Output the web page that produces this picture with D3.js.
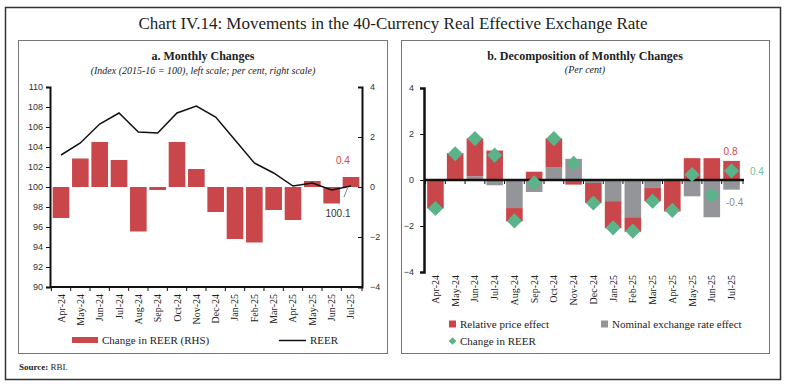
<!DOCTYPE html>
<html>
<head>
<meta charset="utf-8">
<script src="https://cdn.jsdelivr.net/npm/d3@7"></script>
<style>
  body { margin: 0; background: #fff; }
  svg { display: block; }
  text { font-family: "Liberation Serif", serif; fill: #222; }
  .num { font-family: "Liberation Sans", Arial, sans-serif; font-size: 9px; fill: #333; }
</style>
</head>
<body>
<svg id="chart" width="787" height="388"></svg>
<script>
// Данные
const months = ["Apr-24","May-24","Jun-24","Jul-24","Aug-24","Sep-24","Oct-24","Nov-24",
                "Dec-24","Jan-25","Feb-25","Mar-25","Apr-25","May-25","Jun-25","Jul-25"];
// Индекс REER (левая шкала)
const reer = [103.2,104.4,106.3,107.4,105.5,105.4,107.4,108.1,107.0,104.7,102.4,101.4,100.1,100.4,99.7,100.1];
// Изменение REER, % (правая шкала)
const reerChange = [-1.24,1.14,1.8,1.08,-1.78,-0.12,1.8,0.72,-1.0,-2.08,-2.22,-0.92,-1.32,0.24,-0.66,0.4];
// Разложение
const priceEffect = [-1.2,1.17,1.65,1.28,-0.58,0.36,1.27,-0.2,-0.87,-1.18,-0.63,-0.57,-1.37,0.95,0.95,0.83];
const nominalEffect = [-0.04,0.0,0.16,-0.23,-1.22,-0.52,0.54,0.92,-0.13,-0.92,-1.62,-0.35,0.05,-0.71,-1.62,-0.42];
// Метки шкал
const leftTicks = [90,92,94,96,98,100,102,104,106,108,110];
const rightTicks = [-4,-2,0,2,4];

const RED = "#C9474B", GRAY = "#939598", GREEN = "#5BB38A";
const svg = d3.select("#chart");

// Рамки
svg.append("rect").attr("x", 5.5).attr("y", 7.5).attr("width", 775).attr("height", 372)
   .attr("fill", "none").attr("stroke", "#333").attr("stroke-width", 1.5);
svg.append("rect").attr("x", 18.5).attr("y", 40.5).attr("width", 369).attr("height", 313)
   .attr("fill", "none").attr("stroke", "#777").attr("stroke-width", 1);
svg.append("rect").attr("x", 401.5).attr("y", 40.5).attr("width", 368).attr("height", 313)
   .attr("fill", "none").attr("stroke", "#777").attr("stroke-width", 1);

svg.append("text").attr("x", 393).attr("y", 29).attr("text-anchor", "middle")
   .style("font-size", "17px").text("Chart IV.14: Movements in the 40-Currency Real Effective Exchange Rate");

svg.append("text").attr("x", 203).attr("y", 60).attr("text-anchor", "middle")
   .style("font-size", "12px").style("font-weight", "bold").text("a. Monthly Changes");
svg.append("text").attr("x", 203).attr("y", 74).attr("text-anchor", "middle")
   .style("font-size", "10px").style("font-style", "italic")
   .text("(Index (2015-16 = 100), left scale;  per cent, right scale)");
svg.append("text").attr("x", 585).attr("y", 60).attr("text-anchor", "middle")
   .style("font-size", "12px").style("font-weight", "bold").text("b. Decomposition of Monthly Changes");
svg.append("text").attr("x", 585).attr("y", 73).attr("text-anchor", "middle")
   .style("font-size", "10px").style("font-style", "italic").text("(Per cent)");

const src = svg.append("text").attr("x", 19).attr("y", 370).style("font-size", "9px");
src.append("tspan").style("font-weight", "bold").text("Source: ");
src.append("tspan").text("RBI.");

// ---------- Панель a ----------
function chartA() {
  const x = d3.scaleBand().domain(months).range([50, 362]).padding(0.14);
  const yL = d3.scaleLinear().domain([90, 110]).range([287, 87]);
  const yR = d3.scaleLinear().domain([-4, 4]).range([287, 87]);
  const g = svg.append("g");

  g.selectAll("rect.bar").data(months).enter().append("rect")
    .attr("x", d => x(d))
    .attr("width", x.bandwidth())
    .attr("y", (d, i) => yR(Math.max(0, reerChange[i])))
    .attr("height", (d, i) => Math.abs(yR(reerChange[i]) - yR(0)))
    .attr("fill", RED);

  const line = d3.line().x((d, i) => x(months[i]) + x.bandwidth() / 2).y(d => yL(d));
  g.append("path").datum(reer).attr("d", line)
    .attr("fill", "none").attr("stroke", "#111").attr("stroke-width", 1.5);

  // Оси
  const left = g.append("g").attr("transform", "translate(50,0)")
    .call(d3.axisLeft(yL).tickValues(leftTicks).tickSize(4));
  const right = g.append("g").attr("transform", "translate(362,0)")
    .call(d3.axisRight(yR).tickValues(rightTicks).tickSize(-4).tickPadding(8));
  [left, right].forEach(a => {
    a.select(".domain").attr("stroke", "#111").attr("stroke-width", 2);
    a.selectAll("line").attr("stroke", "#111");
    a.selectAll("text").attr("class", "num");
  });

  const boundaries = months.map(m => x(m) - x.step() * x.paddingOuter() * 0 - (x.step() - x.bandwidth()) / 2).concat([362]);
  g.append("line").attr("x1", 50).attr("x2", 362).attr("y1", 287).attr("y2", 287)
    .attr("stroke", "#111").attr("stroke-width", 2);
  g.selectAll("line.xt").data(boundaries).enter().append("line")
    .attr("x1", d => d).attr("x2", d => d).attr("y1", 287).attr("y2", 291).attr("stroke", "#111");

  g.selectAll("text.xl").data(months).enter().append("text")
    .attr("transform", d => `translate(${x(d) + x.bandwidth() / 2 + 3.5},294) rotate(-90)`)
    .attr("text-anchor", "end").style("font-size", "10px").text(d => d);

  // Подписи последних значений
  const last = months.length - 1;
  const cx = x(months[last]) + x.bandwidth() / 2;
  g.append("text").attr("class", "num").attr("x", cx - 8).attr("y", yR(reerChange[last]) - 13)
    .attr("text-anchor", "middle").style("font-size", "10px").style("fill", "#D0454F")
    .text(reerChange[last].toFixed(1));
  g.append("line").attr("x1", cx - 3).attr("y1", yL(reer[last]) + 1).attr("x2", cx - 7).attr("y2", yL(reer[last]) + 11)
    .attr("stroke", "#888");
  g.append("text").attr("class", "num").attr("x", cx - 13).attr("y", yL(reer[last]) + 31)
    .attr("text-anchor", "middle").style("font-size", "10px").style("fill", "#333")
    .text(reer[last].toFixed(1));

  // Легенда
  g.append("rect").attr("x", 72).attr("y", 337).attr("width", 26).attr("height", 6).attr("fill", RED);
  g.append("text").attr("x", 102).attr("y", 344).style("font-size", "11px").text("Change in REER (RHS)");
  g.append("line").attr("x1", 279).attr("x2", 306).attr("y1", 340.5).attr("y2", 340.5)
    .attr("stroke", "#111").attr("stroke-width", 1.5);
  g.append("text").attr("x", 310).attr("y", 344).style("font-size", "11px").text("REER");
}

// ---------- Панель b ----------
function chartB() {
  const x = d3.scaleBand().domain(months).range([424, 743]).padding(0.16);
  const y = d3.scaleLinear().domain([-4, 4]).range([272, 88]);
  const g = svg.append("g");

  // Серые столбцы от нуля, красные поверх них
  g.selectAll("rect.nom").data(months).enter().append("rect")
    .attr("x", d => x(d)).attr("width", x.bandwidth())
    .attr("y", (d, i) => y(Math.max(0, nominalEffect[i])))
    .attr("height", (d, i) => Math.abs(y(nominalEffect[i]) - y(0)))
    .attr("fill", GRAY);

  g.selectAll("rect.pr").data(months).enter().append("rect")
    .attr("x", d => x(d)).attr("width", x.bandwidth())
    .attr("y", (d, i) => {
      const p = priceEffect[i], n = nominalEffect[i];
      const base = (p >= 0) === (n >= 0) ? n : 0;
      return y(Math.max(base, base + p));
    })
    .attr("height", (d, i) => Math.abs(y(priceEffect[i]) - y(0)))
    .attr("fill", RED);

  const ax = g.append("g").attr("transform", "translate(424,0)")
    .call(d3.axisLeft(y).tickValues(rightTicks).tickSize(4).tickPadding(6));
  ax.select(".domain").attr("stroke", "#111").attr("stroke-width", 2.5);
  ax.selectAll("line").attr("stroke", "#111");
  ax.selectAll("text").attr("class", "num");

  g.append("line").attr("x1", 424).attr("x2", 744).attr("y1", y(0)).attr("y2", y(0))
    .attr("stroke", "#111").attr("stroke-width", 2.5);
  const boundaries = months.map(m => x(m) - (x.step() - x.bandwidth()) / 2).concat([743]);
  g.selectAll("line.xt").data(boundaries).enter().append("line")
    .attr("x1", d => d).attr("x2", d => d).attr("y1", y(0)).attr("y2", y(0) + 4).attr("stroke", "#111");

  const sym = d3.symbol().type(d3.symbolSquare).size(115);
  g.selectAll("path.dia").data(reerChange).enter().append("path")
    .attr("d", sym)
    .attr("transform", (d, i) => `translate(${x(months[i]) + x.bandwidth() / 2},${y(d)}) rotate(45)`)
    .attr("fill", GREEN);

  g.selectAll("text.xl").data(months).enter().append("text")
    .attr("transform", d => `translate(${x(d) + x.bandwidth() / 2 + 3.5},275) rotate(-90)`)
    .attr("text-anchor", "end").style("font-size", "10px").text(d => d);

  const last = months.length - 1;
  const cx = x(months[last]) + x.bandwidth() / 2;
  g.append("text").attr("class", "num").attr("x", cx - 1).attr("y", y(priceEffect[last]) - 6)
    .attr("text-anchor", "middle").style("font-size", "10px").style("fill", "#D0454F")
    .text(priceEffect[last].toFixed(1));
  g.append("text").attr("class", "num").attr("x", 750).attr("y", y(reerChange[last]) + 4)
    .style("font-size", "10px").style("fill", "#6BBF9C").text(reerChange[last].toFixed(1));
  g.append("text").attr("class", "num").attr("x", 726).attr("y", y(nominalEffect[last]) + 16)
    .style("font-size", "10px").style("fill", "#8A8C90").text(nominalEffect[last].toFixed(1));

  // Легенда
  g.append("rect").attr("x", 449).attr("y", 320.5).attr("width", 7).attr("height", 7).attr("fill", RED);
  g.append("text").attr("x", 460).attr("y", 328).style("font-size", "11px").text("Relative price effect");
  g.append("rect").attr("x", 601).attr("y", 320.5).attr("width", 7).attr("height", 7).attr("fill", GRAY);
  g.append("text").attr("x", 612).attr("y", 328).style("font-size", "11px").text("Nominal exchange rate effect");
  g.append("path").attr("d", d3.symbol().type(d3.symbolSquare).size(30))
    .attr("transform", "translate(452.5,341) rotate(45)").attr("fill", GREEN);
  g.append("text").attr("x", 460).attr("y", 345).style("font-size", "11px").text("Change in REER");
}

chartA();
chartB();
</script>
</body>
</html>
